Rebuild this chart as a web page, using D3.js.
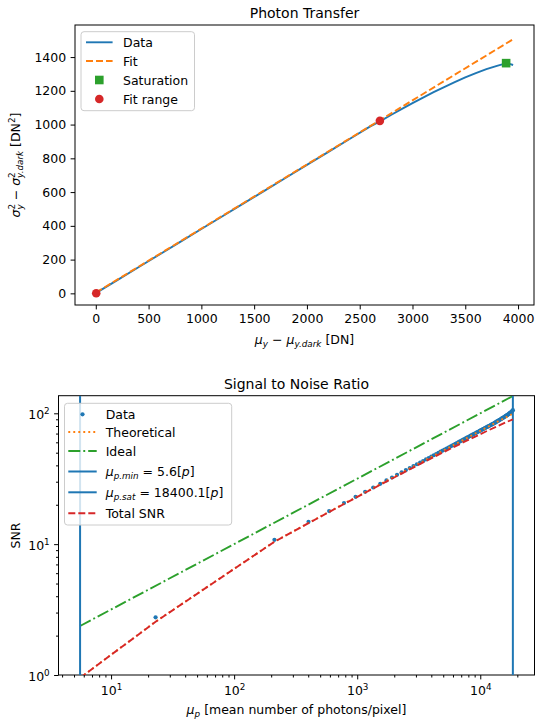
<!DOCTYPE html>
<html>
<head>
<meta charset="utf-8">
<script src="https://cdn.jsdelivr.net/npm/d3@7"></script>
<style>
  body { margin: 0; background: #fff; }
  svg { display: block; font-family: "DejaVu Sans", sans-serif; }
</style>
</head>
<body>
<svg width="535" height="721"></svg>
<script>
// ---- photon transfer data ----
const ptcX = [0, 200, 400, 600, 800, 1000, 1200, 1400, 1600, 1800, 2000, 2200, 2400, 2600, 2700,
  2800, 2900, 3000, 3100, 3200, 3300, 3400, 3500, 3600, 3700, 3800, 3850, 3887, 3920, 3953];
const ptcY = [1, 77, 153, 229, 305, 381, 457, 533, 609, 685, 761, 837, 913, 989, 1022,
  1058, 1093, 1127, 1160, 1192, 1222, 1251, 1279, 1305, 1328, 1348, 1357, 1362, 1360, 1353];
const fitX = [0, 3957];
const fitY = [4, 1507];
const fitRangeX = [4, 2691];
const fitRangeY = [1, 1022];
const satX = [3887];
const satY = [1364];
const ptcXTicks = [0, 500, 1000, 1500, 2000, 2500, 3000, 3500, 4000];
const ptcYTicks = [0, 200, 400, 600, 800, 1000, 1200, 1400];

// ---- SNR data ----
const snrX = [23, 212.5, 402, 591.5, 781, 970.5, 1160, 1349.5, 1539, 1728.5,
  1918, 2107.5, 2297, 2486.5, 2676, 2865.5, 3055, 3244.5, 3434, 3623.5,
  3813, 4002.5, 4192, 4381.5, 4571, 4760.5, 4950, 5139.5, 5329, 5518.5,
  5708, 5897.5, 6087, 6276.5, 6466, 6655.5, 6845, 7034.5, 7224, 7413.5,
  7603, 7792.5, 7982, 8171.5, 8361, 8550.5, 8740, 8929.5, 9119, 9308.5,
  9498, 9687.5, 9877, 10066.5, 10256, 10445.5, 10635, 10824.5, 11014, 11203.5,
  11393, 11582.5, 11772, 11961.5, 12151, 12340.5, 12530, 12719.5, 12909, 13098.5,
  13288, 13477.5, 13667, 13856.5, 14046, 14235.5, 14425, 14614.5, 14804, 14993.5,
  15183, 15372.5, 15562, 15751.5, 15941, 16130.5, 16320, 16509.5, 16699, 16888.5,
  17078, 17267.5, 17457, 17646.5, 17836, 18025.5, 18215, 18404.5];
const snrY = [2.76, 10.8, 14.8, 17.9, 20.6, 23.0, 25.1, 27.1, 28.9, 30.7,
  32.3, 33.9, 35.4, 36.8, 38.2, 39.5, 40.8, 42.0, 43.2, 44.4,
  45.5, 46.7, 47.8, 48.8, 49.9, 50.9, 51.9, 52.9, 53.8, 54.8,
  55.7, 56.6, 57.5, 58.4, 59.3, 60.2, 61.0, 61.9, 62.7, 63.5,
  64.3, 65.1, 65.9, 66.7, 67.4, 68.2, 69.0, 69.7, 70.4, 71.2,
  71.9, 72.6, 73.3, 74.0, 74.7, 75.4, 76.1, 76.7, 77.4, 78.1,
  78.7, 79.4, 80.0, 80.7, 81.3, 81.9, 82.6, 83.2, 83.8, 84.4,
  85.2, 85.9, 86.6, 87.3, 87.9, 88.6, 89.3, 90.0, 90.6, 91.3,
  92.0, 92.6, 93.3, 94.1, 94.7, 95.4, 96.1, 96.8, 97.5, 98.2,
  99.0, 99.7, 100.6, 101.4, 102.2, 103.2, 104.2, 105.6];
const theoX = [5.6, 23, 212.5, 402, 591.5, 781, 970.5, 1160, 1539, 2297,
  3434, 5139.5, 7603, 11203.5, 14993.5, 18404.5];
const theoY = [0.95, 2.56, 10.45, 14.5, 17.7, 20.4, 22.75, 24.9, 28.7, 35.1,
  43.0, 52.6, 64.0, 77.7, 89.9, 99.2];
const totalY = [0.95, 2.55, 10.43, 14.47, 17.62, 20.27, 22.61, 24.71, 28.44, 34.63,
  42.1, 51.0, 61.2, 72.9, 82.7, 90.0];
const idealX = [5.6, 18400];
const idealY = [2.37, 135.6];
const muMin = 5.6;
const muSat = 18400.1;
const snrXTicks = [10, 100, 1000, 10000];
const snrYTicks = [1, 10, 100];

const blue = '#1f77b4';
const orange = '#ff7f0e';
const green = '#2ca02c';
const red = '#d62728';
const fontSize = 12.5;
const smallSize = 8.8;

const svg = d3.select('svg');

// writes a label made of plain / italic / sub / sup pieces
function richText(text, parts) {
  let level = 0;
  text.style('white-space', 'pre');
  parts.forEach((p) => {
    const shift = p.sub ? 3.2 : (p.sup ? -5 : 0);
    const span = text.append('tspan')
      .attr('dy', shift - level)
      .text(p.t);
    level = shift;
    if (p.it) span.attr('font-style', 'italic');
    if (p.sub || p.sup) span.attr('font-size', smallSize);
    if (p.dx) span.attr('dx', p.dx);
  });
  return text;
}

function frame(g, x, y) {
  const [x0, x1] = x.range();
  const [y0, y1] = y.range();
  g.append('rect')
    .attr('x', x0).attr('y', y1)
    .attr('width', x1 - x0).attr('height', y0 - y1)
    .attr('fill', 'none')
    .attr('stroke', '#000')
    .attr('stroke-width', 1);
}

function clip(id, x, y) {
  const [x0, x1] = x.range();
  const [y0, y1] = y.range();
  svg.append('clipPath').attr('id', id)
    .append('rect')
      .attr('x', x0).attr('y', y1)
      .attr('width', x1 - x0).attr('height', y0 - y1);
  return svg.append('g').attr('clip-path', `url(#${id})`);
}

function styleAxis(g) {
  g.attr('font-size', fontSize).attr('font-family', null);
  g.select('.domain').remove();
  g.selectAll('.tick line').attr('stroke-width', 1);
}

function legend(g, box, items) {
  g.append('rect')
    .attr('x', box.x).attr('y', box.y)
    .attr('width', box.w).attr('height', box.h)
    .attr('rx', 3)
    .attr('fill', '#fff').attr('fill-opacity', 0.8)
    .attr('stroke', '#cccccc').attr('stroke-width', 1);
  items.forEach((it) => {
    const row = g.append('g');
    it.handle(row, box.hx0, box.hx1, it.y);
    richText(row.append('text')
      .attr('x', box.tx).attr('y', it.y + 4.5)
      .attr('font-size', fontSize), it.label);
  });
}

function handleLine(color, dash, width = 1.9) {
  return (g, x0, x1, y) => g.append('line')
    .attr('x1', x0).attr('x2', x1).attr('y1', y).attr('y2', y)
    .attr('stroke', color).attr('stroke-width', width)
    .attr('stroke-dasharray', dash);
}

// ================= Photon Transfer =================
function drawPtc() {
  const x = d3.scaleLinear().domain([-197, 4151]).range([75, 534]);
  const y = d3.scaleLinear().domain([-69, 1590]).range([305, 25]);
  const g = svg.append('g');

  g.append('g')
    .attr('transform', 'translate(0,305)')
    .call(d3.axisBottom(x).tickValues(ptcXTicks).tickFormat(d3.format('d'))
      .tickSize(4.4).tickPadding(4.4))
    .call(styleAxis);
  g.append('g')
    .attr('transform', 'translate(75,0)')
    .call(d3.axisLeft(y).tickValues(ptcYTicks).tickFormat(d3.format('d'))
      .tickSize(4.4).tickPadding(4.4))
    .call(styleAxis);

  const plot = clip('clip-ptc', x, y);
  const line = d3.line().x(d => x(d[0])).y(d => y(d[1]));

  plot.append('path')
    .datum(d3.zip(ptcX, ptcY))
    .attr('d', line)
    .attr('fill', 'none').attr('stroke', blue).attr('stroke-width', 1.9);
  plot.append('path')
    .datum(d3.zip(fitX, fitY))
    .attr('d', line)
    .attr('fill', 'none').attr('stroke', orange).attr('stroke-width', 1.9)
    .attr('stroke-dasharray', '7,3');
  plot.selectAll('rect.sat')
    .data(d3.zip(satX, satY))
    .enter().append('rect')
      .attr('class', 'sat')
      .attr('x', d => x(d[0]) - 4.3)
      .attr('y', d => y(d[1]) - 4.3)
      .attr('width', 8.6).attr('height', 8.6)
      .attr('fill', green);
  plot.selectAll('circle.fr')
    .data(d3.zip(fitRangeX, fitRangeY))
    .enter().append('circle')
      .attr('class', 'fr')
      .attr('cx', d => x(d[0]))
      .attr('cy', d => y(d[1]))
      .attr('r', 4.3)
      .attr('fill', red);

  frame(g, x, y);

  svg.append('text')
    .attr('x', 304.5).attr('y', 17.5)
    .attr('text-anchor', 'middle')
    .attr('font-size', 14)
    .text('Photon Transfer');

  richText(svg.append('text')
    .attr('x', 304.5).attr('y', 344)
    .attr('text-anchor', 'middle')
    .attr('font-size', fontSize), [
    { t: 'μ', it: 1 }, { t: 'y', it: 1, sub: 1 }, { t: ' − ' },
    { t: 'μ', it: 1 }, { t: 'y.dark', it: 1, sub: 1 }, { t: ' [DN]' },
  ]);

  richText(svg.append('text')
    .attr('transform', 'translate(20,165) rotate(-90)')
    .attr('text-anchor', 'middle')
    .attr('font-size', fontSize), [
    { t: 'σ', it: 1 }, { t: '2', sup: 1 }, { t: 'y', it: 1, sub: 1, dx: -5.6 },
    { t: ' − ' },
    { t: 'σ', it: 1 }, { t: '2', sup: 1 }, { t: 'y.dark', it: 1, sub: 1, dx: -5.6 },
    { t: ' [DN' }, { t: '2', sup: 1 }, { t: ']' },
  ]);

  legend(svg.append('g'), { x: 81, y: 31.7, w: 113.5, h: 79, hx0: 86, hx1: 112.6, tx: 123 }, [
    { y: 42.3, label: [{ t: 'Data' }], handle: handleLine(blue, null) },
    { y: 61, label: [{ t: 'Fit' }], handle: handleLine(orange, '7,3') },
    { y: 80, label: [{ t: 'Saturation' }],
      handle: (h, x0, x1, cy) => h.append('rect')
        .attr('x', (x0 + x1) / 2 - 4.3).attr('y', cy - 4.3)
        .attr('width', 8.6).attr('height', 8.6).attr('fill', green) },
    { y: 99, label: [{ t: 'Fit range' }],
      handle: (h, x0, x1, cy) => h.append('circle')
        .attr('cx', (x0 + x1) / 2).attr('cy', cy).attr('r', 4.3).attr('fill', red) },
  ]);
}

// ================= Signal to Noise Ratio =================
function drawSnr() {
  const x = d3.scaleLog().domain([3.74, 27580]).range([58.5, 534.5]);
  const y = d3.scaleLog().domain([1, 136.3]).range([675, 395.7]);
  const g = svg.append('g');

  const minors = (dom, majors) => {
    const out = [];
    for (let e = -1; e <= 5; e += 1) {
      for (let m = 2; m <= 9; m += 1) {
        const v = m * 10 ** e;
        if (v >= dom[0] && v <= dom[1] && !majors.includes(v)) out.push(v);
      }
    }
    return out;
  };

  const expLabel = (sel) => sel.selectAll('.tick text').each(function (d) {
    const t = d3.select(this).text(null);
    t.append('tspan').text('10');
    t.append('tspan').attr('dy', -5).attr('font-size', smallSize)
      .text(Math.round(Math.log10(d)));
  });

  g.append('g')
    .attr('transform', 'translate(0,675)')
    .call(d3.axisBottom(x).tickValues(minors(x.domain(), snrXTicks)).tickFormat('').tickSize(2.5))
    .call(styleAxis);
  g.append('g')
    .attr('transform', 'translate(0,675)')
    .call(d3.axisBottom(x).tickValues(snrXTicks).tickSize(4.4).tickPadding(4.4))
    .call(styleAxis)
    .call(expLabel)
    .call(a => a.selectAll('.tick text').attr('y', 20).attr('dy', 0));
  g.append('g')
    .attr('transform', 'translate(58.5,0)')
    .call(d3.axisLeft(y).tickValues(minors(y.domain(), snrYTicks)).tickFormat('').tickSize(2.5))
    .call(styleAxis);
  g.append('g')
    .attr('transform', 'translate(58.5,0)')
    .call(d3.axisLeft(y).tickValues(snrYTicks).tickSize(4.4).tickPadding(4.4))
    .call(styleAxis)
    .call(expLabel)
    .call(a => a.selectAll('.tick text').attr('dy', 5.5));

  const plot = clip('clip-snr', x, y);
  const line = d3.line().x(d => x(d[0])).y(d => y(d[1]));

  plot.selectAll('circle')
    .data(d3.zip(snrX, snrY))
    .enter().append('circle')
      .attr('cx', d => x(d[0]))
      .attr('cy', d => y(d[1]))
      .attr('r', 2.1)
      .attr('fill', blue);
  plot.append('path')
    .datum(d3.zip(theoX, theoY))
    .attr('d', line)
    .attr('fill', 'none').attr('stroke', orange).attr('stroke-width', 1.9)
    .attr('stroke-dasharray', '1.9,3.1');
  plot.append('path')
    .datum(d3.zip(idealX, idealY))
    .attr('d', line)
    .attr('fill', 'none').attr('stroke', green).attr('stroke-width', 1.9)
    .attr('stroke-dasharray', '12,3,1.9,3');
  plot.selectAll('line.vl')
    .data([muMin, muSat])
    .enter().append('line')
      .attr('class', 'vl')
      .attr('x1', d => x(d)).attr('x2', d => x(d))
      .attr('y1', y.range()[0]).attr('y2', y.range()[1])
      .attr('stroke', blue).attr('stroke-width', 2);
  plot.append('path')
    .datum(d3.zip(theoX, totalY))
    .attr('d', line)
    .attr('fill', 'none').attr('stroke', red).attr('stroke-width', 1.9)
    .attr('stroke-dasharray', '7,3');

  frame(g, x, y);

  svg.append('text')
    .attr('x', 296.5).attr('y', 388.5)
    .attr('text-anchor', 'middle')
    .attr('font-size', 14)
    .text('Signal to Noise Ratio');

  richText(svg.append('text')
    .attr('x', 296.5).attr('y', 713.5)
    .attr('text-anchor', 'middle')
    .attr('font-size', fontSize), [
    { t: 'μ', it: 1 }, { t: 'p', it: 1, sub: 1 }, { t: ' [mean number of photons/pixel]' },
  ]);

  svg.append('text')
    .attr('transform', 'translate(19.5,535.5) rotate(-90)')
    .attr('text-anchor', 'middle')
    .attr('font-size', fontSize)
    .text('SNR');

  legend(svg.append('g'), { x: 64.5, y: 403.3, w: 167.2, h: 121.7, hx0: 68.3, hx1: 96.7, tx: 105.7 }, [
    { y: 414.3, label: [{ t: 'Data' }],
      handle: (h, x0, x1, cy) => h.append('circle')
        .attr('cx', (x0 + x1) / 2).attr('cy', cy).attr('r', 2.1).attr('fill', blue) },
    { y: 432, label: [{ t: 'Theoretical' }], handle: handleLine(orange, '1.9,3.1') },
    { y: 451, label: [{ t: 'Ideal' }], handle: handleLine(green, '12,3,1.9,3') },
    { y: 471.5, label: [{ t: 'μ', it: 1 }, { t: 'p.min', it: 1, sub: 1 }, { t: ' = 5.6[' },
      { t: 'p', it: 1 }, { t: ']' }], handle: handleLine(blue, null, 2) },
    { y: 492.3, label: [{ t: 'μ', it: 1 }, { t: 'p.sat', it: 1, sub: 1 }, { t: ' = 18400.1[' },
      { t: 'p', it: 1 }, { t: ']' }], handle: handleLine(blue, null, 2) },
    { y: 513.3, label: [{ t: 'Total SNR' }], handle: handleLine(red, '7,3') },
  ]);
}

drawPtc();
drawSnr();
</script>
</body>
</html>
